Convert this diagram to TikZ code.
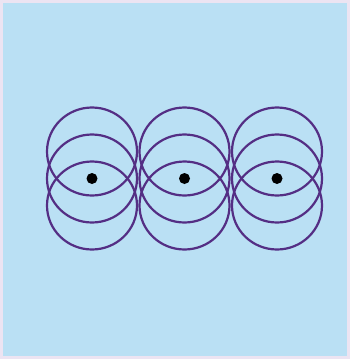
\documentclass[tikz,border=0pt]{standalone}
\begin{document}
\begin{tikzpicture}[x=1pt,y=-1pt,
  ring/.style={draw=ringc,line width=2.2pt},
  dotc/.style={circle,fill=black,inner sep=0pt,minimum size=11pt}]
\definecolor{ringc}{RGB}{84,46,132}
\definecolor{bgc}{RGB}{186,224,244}
\definecolor{edgec}{RGB}{236,228,242}
\fill[edgec] (0,0) rectangle (350,359);
\fill[bgc] (3,3) rectangle (347,356);
\useasboundingbox (0,0) rectangle (350,359);
\foreach \i/\cx in {1/92,2/184.5,3/277}{
  \foreach \dy in {-27,0,27}{
    \draw[ring] (\cx,178.5+\dy) ellipse [x radius=45, y radius=44];
  }
  \node[dotc] (d\i) at (\cx,178.5) {};
}
\end{tikzpicture}
\end{document}
